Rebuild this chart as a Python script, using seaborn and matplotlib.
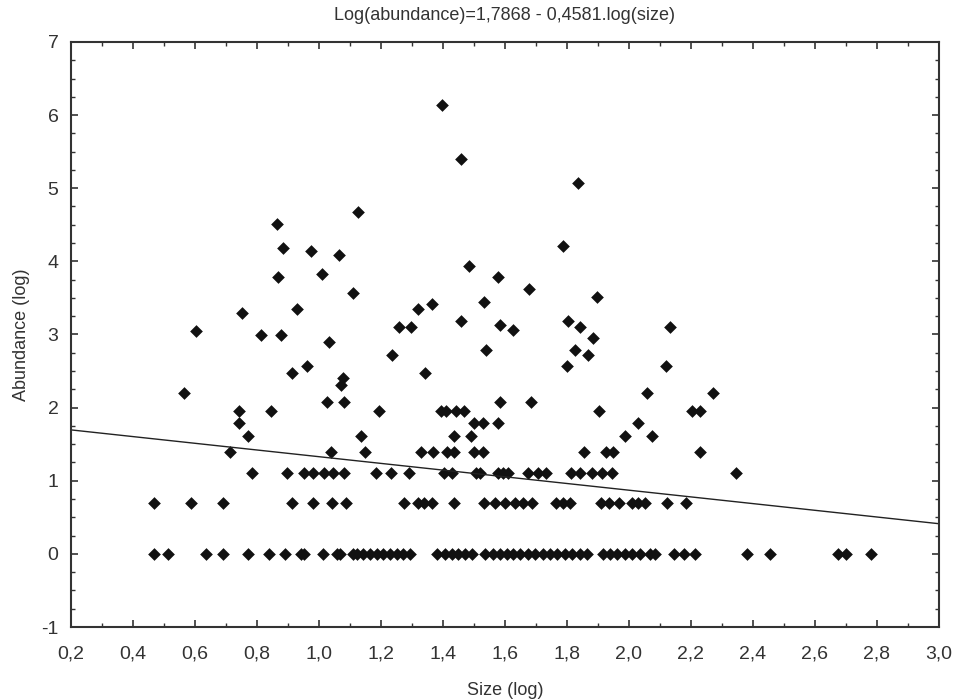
import matplotlib
matplotlib.use("Agg")
import matplotlib.pyplot as plt
from matplotlib.ticker import FuncFormatter, MultipleLocator
import seaborn as sns
import numpy as np
import pandas as pd

# fitted line from the title: log(abundance) = a + b.log(size)
intercept = 1.7868
slope = -0.4581

# points, grouped by abundance level
upper_x = [1.398, 1.458, 1.836, 1.125, 0.864, 0.885, 0.973, 1.066, 1.788, 1.485,
           0.867, 1.011, 1.578, 1.677, 1.109, 1.896, 0.928, 0.751, 1.318, 1.364,
           1.533, 0.602, 1.458, 1.584, 1.627, 1.804, 1.842, 1.259, 1.297, 2.134,
           0.813, 0.877, 1.033, 1.883, 1.234, 1.538, 1.826, 1.869, 0.960, 1.799,
           2.119, 0.912, 1.342, 1.076, 1.071, 0.565, 2.059, 2.272]
upper_y = [6.14, 5.40, 5.07, 4.67, 4.51, 4.18, 4.14, 4.09, 4.21, 3.93,
           3.78, 3.83, 3.78, 3.62, 3.57, 3.51, 3.35, 3.29, 3.35, 3.42,
           3.44, 3.05, 3.18, 3.13, 3.06, 3.18, 3.10, 3.10, 3.10, 3.10,
           2.99, 2.99, 2.90, 2.95, 2.72, 2.79, 2.79, 2.72, 2.57, 2.57,
           2.57, 2.48, 2.48, 2.41, 2.31, 2.20, 2.20, 2.20]

x_208 = [1.027, 1.082, 1.584, 1.683]
x_195 = [0.742, 0.845, 1.195, 1.394, 1.410, 1.441, 1.469, 1.903, 2.205, 2.229]
x_179 = [0.742, 1.501, 1.530, 1.578, 2.030]
x_161 = [0.770, 1.137, 1.435, 1.490, 1.986, 2.073]
x_139 = [0.713, 1.038, 1.148, 1.329, 1.367, 1.414, 1.436, 1.501, 1.530, 1.855,
         1.925, 1.947, 2.229]
x_110 = [0.785, 0.896, 0.952, 0.980, 1.016, 1.044, 1.082, 1.183, 1.231, 1.291,
         1.404, 1.430, 1.506, 1.519, 1.578, 1.595, 1.609, 1.673, 1.707, 1.734,
         1.813, 1.842, 1.882, 1.914, 1.944, 2.344]
x_069 = [0.468, 0.587, 0.689, 0.914, 0.980, 1.041, 1.086, 1.275, 1.318, 1.340,
         1.364, 1.435, 1.533, 1.568, 1.600, 1.632, 1.659, 1.688, 1.765, 1.788,
         1.811, 1.910, 1.935, 1.968, 2.011, 2.029, 2.052, 2.124, 2.184]
x_000 = [0.468, 0.514, 0.635, 0.689, 0.770, 0.840, 0.890, 0.941, 0.952, 1.012,
         1.057, 1.068, 1.110, 1.123, 1.142, 1.165, 1.187, 1.206, 1.229, 1.252,
         1.271, 1.294, 1.381, 1.406, 1.429, 1.448, 1.471, 1.494, 1.535, 1.561,
         1.584, 1.606, 1.626, 1.648, 1.674, 1.697, 1.723, 1.745, 1.768, 1.794,
         1.816, 1.842, 1.865, 1.916, 1.939, 1.961, 1.987, 2.010, 2.035, 2.068,
         2.084, 2.145, 2.177, 2.213, 2.381, 2.455, 2.674, 2.700, 2.781]

levels = {2.08: x_208, 1.95: x_195, 1.79: x_179, 1.61: x_161,
          1.39: x_139, 1.10: x_110, 0.69: x_069, 0.0: x_000}

xs = list(upper_x)
ys = list(upper_y)
for lev, vals in levels.items():
    xs += vals
    ys += [lev] * len(vals)
df = pd.DataFrame({"size": xs, "abundance": ys})

sns.set_style("ticks")
plt.rcParams["font.family"] = ["Liberation Sans", "DejaVu Sans"]

fig = plt.figure(figsize=(9.6, 6.99), dpi=100)
ax = fig.add_axes([0.074, 0.103, 0.904, 0.837])

sns.scatterplot(data=df, x="size", y="abundance", marker="D", s=42,
                color="#111111", edgecolor="#111111", linewidth=0, ax=ax)

xl = np.array([0.2, 3.0])
ax.plot(xl, intercept + slope * xl, color="#222222", lw=1.0)

ax.set_xlim(0.2, 3.0)
ax.set_ylim(-1, 7)
ax.xaxis.set_major_locator(MultipleLocator(0.2))
ax.xaxis.set_minor_locator(MultipleLocator(0.1))
ax.yaxis.set_major_locator(MultipleLocator(1))
ax.yaxis.set_minor_locator(MultipleLocator(0.25))
ax.xaxis.set_major_formatter(FuncFormatter(lambda v, p: f"{v:.1f}".replace(".", ",")))
ax.yaxis.set_major_formatter(FuncFormatter(lambda v, p: f"{v:.0f}"))

ax.tick_params(which="both", direction="in", top=True, right=True,
               color="#333333", labelsize=14, labelcolor="#333333")
ax.tick_params(which="major", length=5, width=1.2)
ax.tick_params(axis="x", which="major", pad=13)
ax.tick_params(axis="y", which="major", pad=9)
ax.tick_params(which="minor", length=3, width=1.0)
for sp in ax.spines.values():
    sp.set_color("#333333")
    sp.set_linewidth(1.5)

ax.set_title("Log(abundance)=1,7868 - 0,4581.log(size)", fontsize=13,
             color="#333333", pad=16)
ax.set_xlabel("Size (log)", fontsize=13, color="#333333", labelpad=14)
ax.set_ylabel("Abundance (log)", fontsize=13, color="#333333", labelpad=8)

fig.savefig("out.png", dpi=100)
